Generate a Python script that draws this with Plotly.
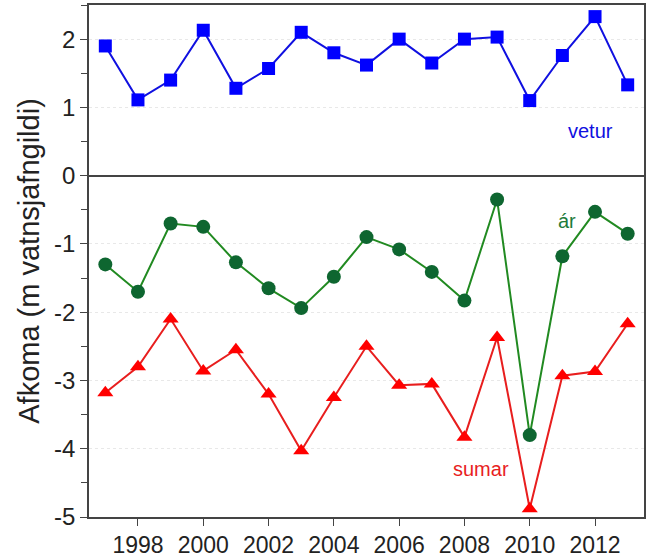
import plotly.graph_objects as go

years = list(range(1997, 2014))
vetur = [1.90, 1.11, 1.40, 2.13, 1.28, 1.57, 2.10, 1.80, 1.62, 2.00, 1.65, 2.00, 2.03, 1.10, 1.76, 2.33, 1.33]
ar = [-1.30, -1.70, -0.70, -0.75, -1.27, -1.65, -1.94, -1.48, -0.90, -1.08, -1.41, -1.83, -0.35, -3.80, -1.18, -0.53, -0.85]
sumar = [-3.18, -2.80, -2.10, -2.86, -2.55, -3.20, -4.03, -3.25, -2.50, -3.07, -3.05, -3.83, -2.37, -4.88, -2.93, -2.87, -2.17]
y_ticks = [-5, -4, -3, -2, -1, 0, 1, 2]
y_ticktext = ["-5", "-4", "-3", "-2", "-1", "0", "1", "2"]
x_ticks = [1998, 2000, 2002, 2004, 2006, 2008, 2010, 2012]

fig = go.Figure()
fig.add_trace(go.Scatter(x=years, y=vetur, mode="lines+markers", name="vetur",
                         line=dict(color="#1010E0", width=2),
                         marker=dict(symbol="square", size=13, color="#0000FF")))
fig.add_trace(go.Scatter(x=years, y=ar, mode="lines+markers", name="ár",
                         line=dict(color="#218A21", width=2),
                         marker=dict(symbol="circle", size=14, color="#0E6630")))
fig.add_trace(go.Scatter(x=years, y=sumar, mode="lines+markers", name="sumar",
                         line=dict(color="#E81E1E", width=2),
                         marker=dict(symbol="triangle-up", size=14, color="#FF0000")))

fig.add_annotation(x=2011.85, y=0.65, text="vetur", showarrow=False,
                   font=dict(size=20, color="#1010E0"), xanchor="center")
fig.add_annotation(x=2011.15, y=-0.67, text="ár", showarrow=False,
                   font=dict(size=20, color="#1E7B3A"), xanchor="center")
fig.add_annotation(x=2008.5, y=-4.3, text="sumar", showarrow=False,
                   font=dict(size=20, color="#E81E1E"), xanchor="center")

fig.update_layout(
    width=646, height=560,
    margin=dict(l=89, r=2, t=5, b=43, autoexpand=False),
    plot_bgcolor="white", paper_bgcolor="white",
    showlegend=False,
    font=dict(family="Liberation Sans, Arial, sans-serif", color="#222222"),
)
fig.update_xaxes(range=[1996.5, 2013.5], tickmode="array",
                 tickvals=x_ticks,
                 ticks="outside", ticklen=7, tickcolor="#444444",
                 showline=True, linecolor="#444444", linewidth=1.5, mirror=True,
                 showgrid=False, zeroline=False,
                 tickfont=dict(size=23, color="#222222"))
fig.update_yaxes(range=[-5, 2.5], tickmode="array", tickvals=y_ticks, ticktext=y_ticktext,
                 ticks="outside", ticklen=7, tickcolor="#444444",
                 minor=dict(ticks="outside", ticklen=6, dtick=0.5, tickcolor="#444444", showgrid=False),
                 showline=True, linecolor="#444444", linewidth=1.5, mirror=True,
                 showgrid=True, gridcolor="#E8E8E8", griddash="dot", gridwidth=1,
                 zeroline=True, zerolinecolor="#444444", zerolinewidth=1.5,
                 tickfont=dict(size=24, color="#222222"),
                 title=dict(text="Afkoma (m vatnsjafngildi)", font=dict(size=29, color="#222222"), standoff=6))

fig.write_html("out.html", config={"displayModeBar": False},
               post_script="document.body.style.margin='0';")
